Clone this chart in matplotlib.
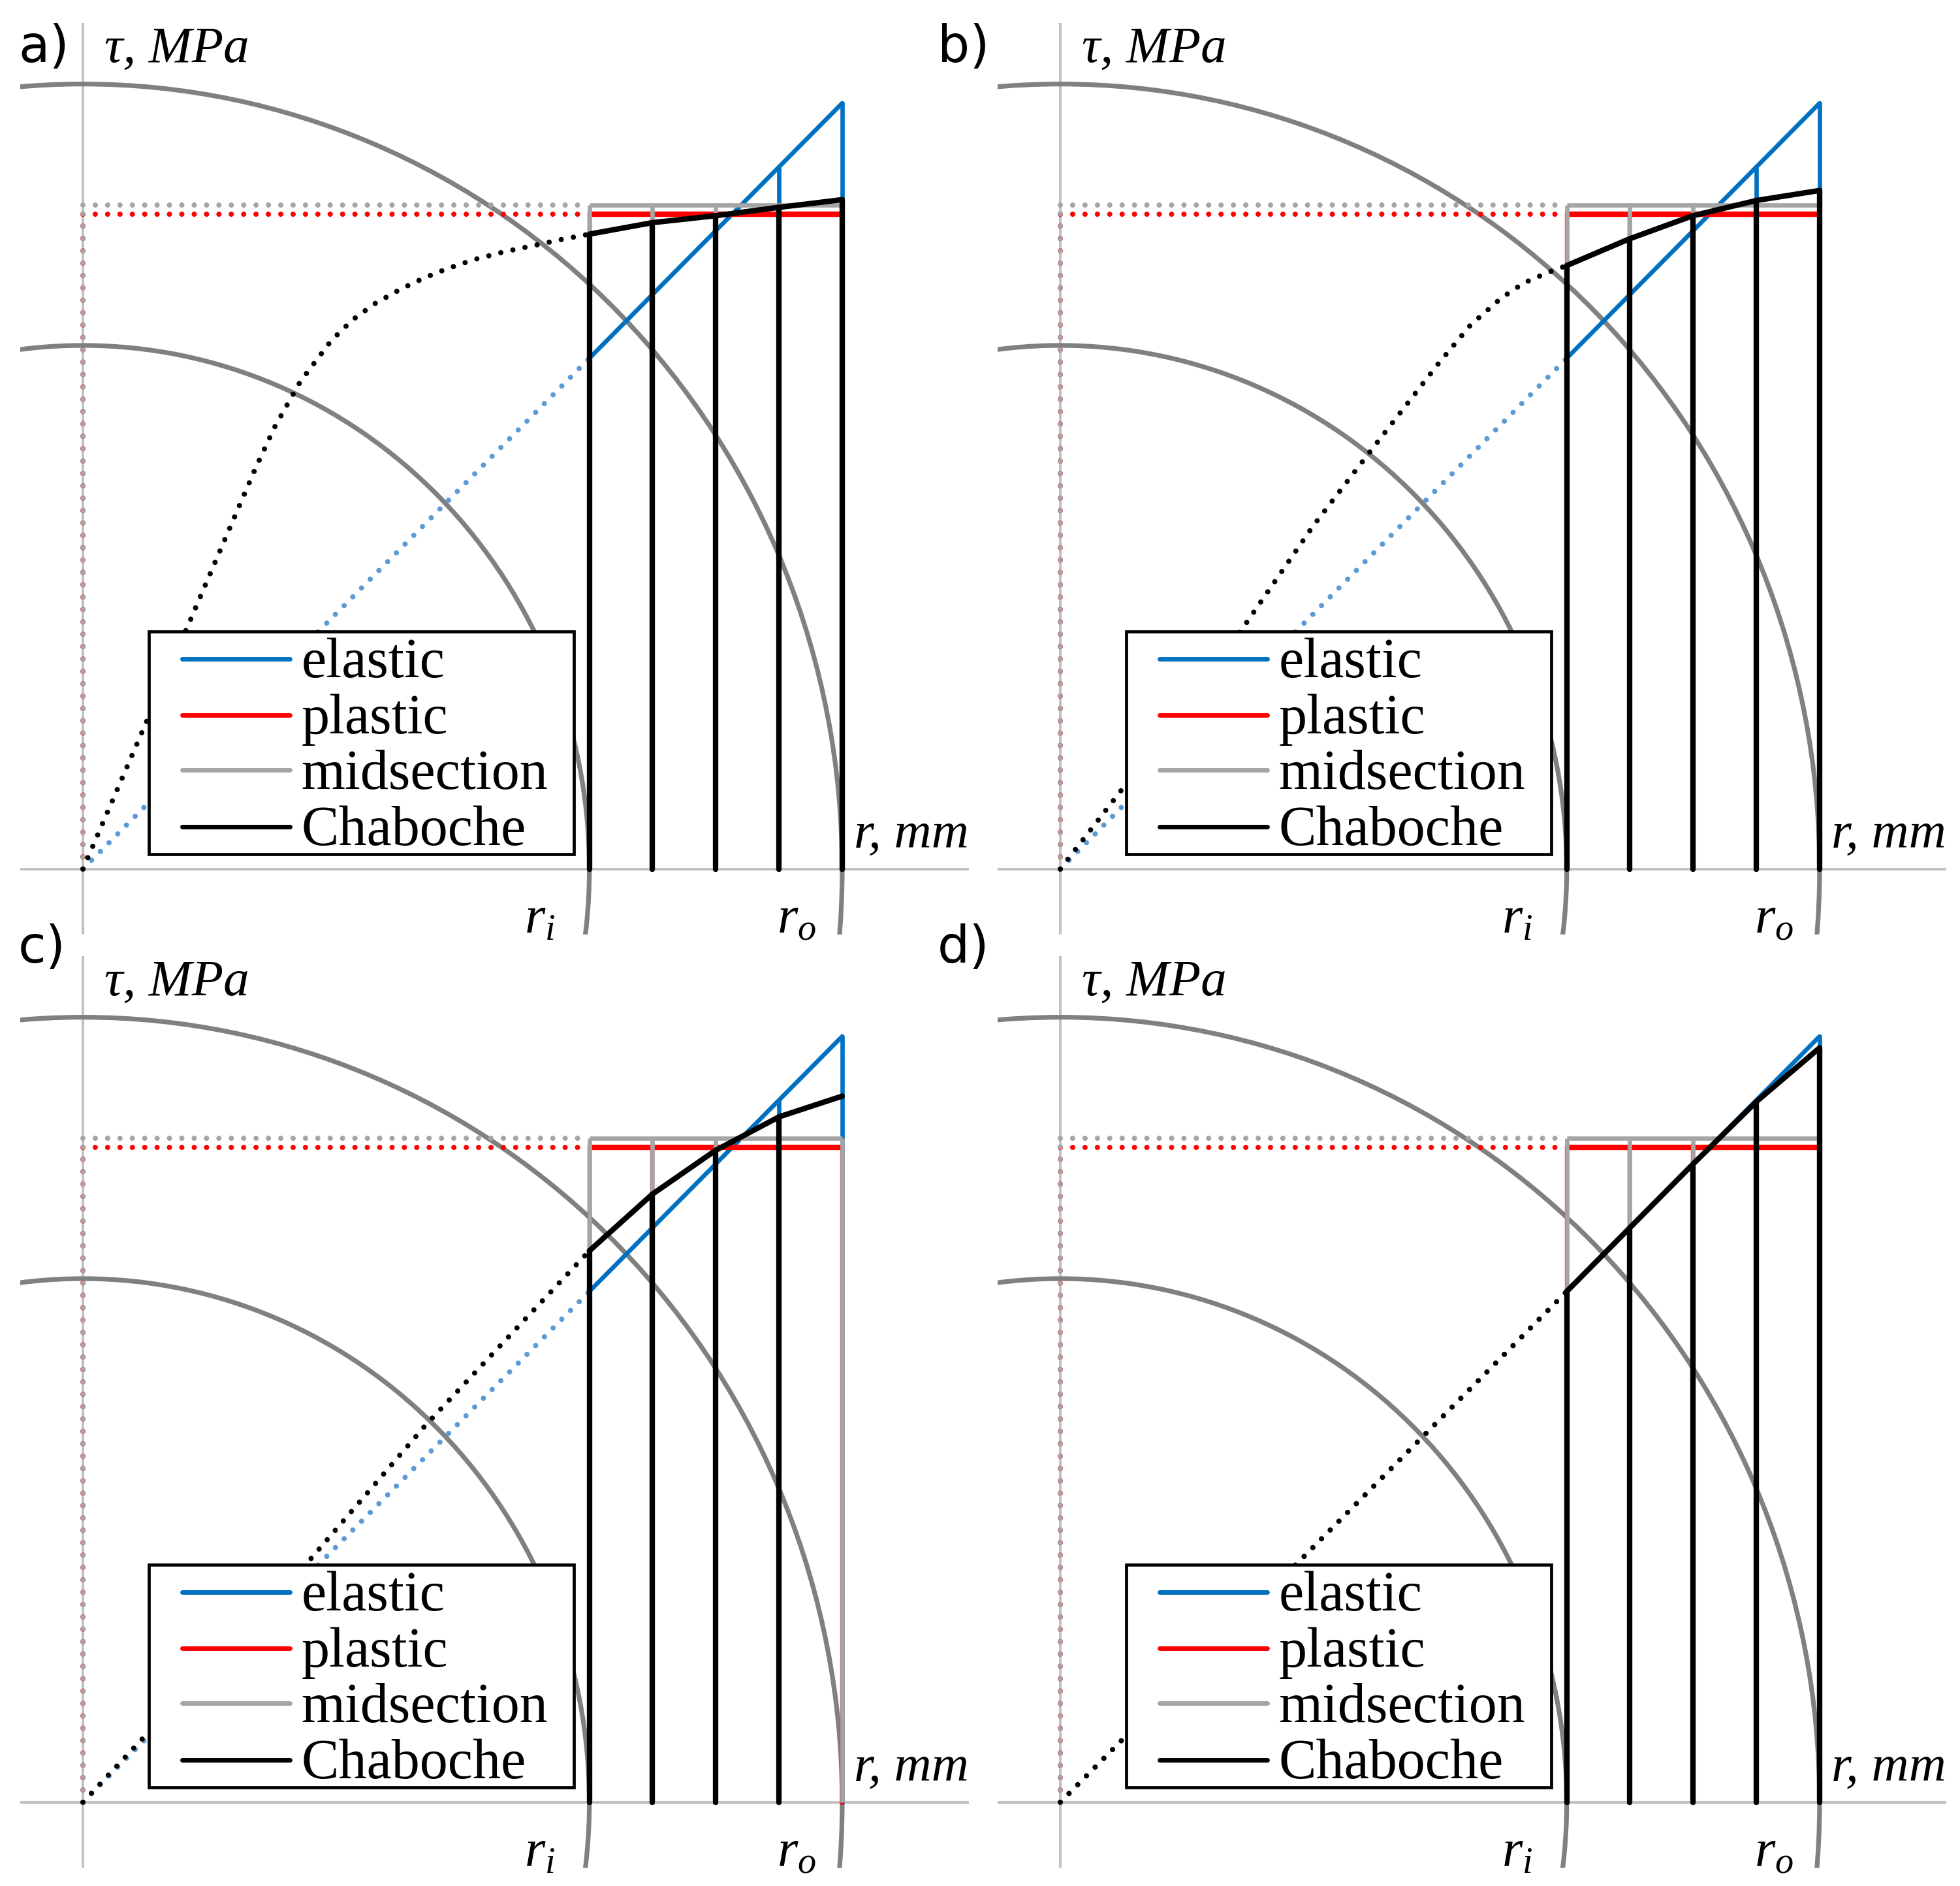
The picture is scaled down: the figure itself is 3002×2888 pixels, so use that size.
import matplotlib
matplotlib.use('Agg')
import matplotlib.pyplot as plt
from matplotlib.patches import Ellipse, Rectangle

plt.rcParams['font.family'] = ['Liberation Serif', 'DejaVu Serif']
plt.rcParams['mathtext.fontset'] = 'custom'
plt.rcParams['mathtext.it'] = 'Liberation Serif:italic'
plt.rcParams['mathtext.rm'] = 'Liberation Serif'

# ---------------- data (normalised: r / r_o, tau / tau_elastic(r_o)) ----------------
PANEL_LABELS = ['a)', 'b)', 'c)', 'd)']
R_SECTIONS = [0.667, 0.75, 0.833, 0.917, 1.0]
R_INNER = 0.667
R_OUTER = 1.0
ARC_RADII = [0.667, 1.0]
ARC_STRETCH = 1.025

ELASTIC_TAU = [0.667, 0.75, 0.833, 0.917, 1.0]
ELASTIC_DOT_R = [0.0, 0.667]
ELASTIC_DOT_TAU = [0.0, 0.667]

TAU_PLASTIC = 0.855
TAU_MIDSECTION = 0.867

# Chaboche, panel a
CHAB_A_TAU = [0.829, 0.844, 0.853, 0.864, 0.874]
CHAB_A_DOT_R = [0.0, 0.138, 0.179, 0.228, 0.253, 0.286, 0.327, 0.355, 0.384, 0.42,
                0.45, 0.48, 0.516, 0.555, 0.598, 0.63, 0.667]
CHAB_A_DOT_TAU = [0.0, 0.317, 0.412, 0.525, 0.578, 0.636, 0.69, 0.717, 0.738, 0.758,
                  0.772, 0.784, 0.796, 0.806, 0.815, 0.822, 0.829]
CHAB_A_BARS = [0.667, 0.75, 0.833, 0.917, 1.0]
# Chaboche, panel b
CHAB_B_TAU = [0.788, 0.823, 0.853, 0.873, 0.886]
CHAB_B_DOT_R = [0.0, 0.082, 0.242, 0.333, 0.415, 0.498, 0.54, 0.58, 0.61, 0.64, 0.667]
CHAB_B_DOT_TAU = [0.0, 0.105, 0.317, 0.448, 0.554, 0.66, 0.71, 0.745, 0.765, 0.778, 0.788]
CHAB_B_BARS = [0.667, 0.75, 0.833, 0.917, 1.0]
# Chaboche, panel c
CHAB_C_TAU = [0.72, 0.794, 0.851, 0.895, 0.922]
CHAB_C_DOT_R = [0.0, 0.295, 0.451, 0.667]
CHAB_C_DOT_TAU = [0.0, 0.312, 0.492, 0.72]
CHAB_C_BARS = [0.667, 0.75, 0.833, 0.917]
# Chaboche, panel d
CHAB_D_TAU = [0.667, 0.75, 0.833, 0.915, 0.985]
CHAB_D_DOT_R = [0.0, 0.667]
CHAB_D_DOT_TAU = [0.0, 0.667]
CHAB_D_BARS = [0.667, 0.75, 0.833, 0.917, 1.0]

LEGEND_LABELS = ['elastic', 'plastic', 'midsection', 'Chaboche']
LEGEND_COLORS = ['#0070C0', '#FF0000', '#A5A5A5', '#000000']

C_BLUE = '#0070C0'
C_BLUE_DOT = '#5B9BD5'
C_RED = '#FF0000'
C_MID = '#A5A5A5'
C_AXIS = '#C0C0C0'
C_ARC = '#808080'

# ---------------- layout ----------------
W, H = 3002, 2888
fig = plt.figure(figsize=(W / 100, H / 100), dpi=100)

XLIM = (-0.0829, 1.1666)
YLIM = (-0.0855, 1.1053)
base = [30.6 / W, 1 - 1431 / H, 1453.1 / W, 1396.5 / H]
DX = 1497 / W
DY = 1429 / H
offsets = [(0, 0), (DX, 0), (0, -DY), (DX, -DY)]
letter_pos = [(28, 95), (1436, 95), (28, 1474), (1436, 1474)]

chab = [
    (CHAB_A_TAU, CHAB_A_DOT_R, CHAB_A_DOT_TAU, CHAB_A_BARS),
    (CHAB_B_TAU, CHAB_B_DOT_R, CHAB_B_DOT_TAU, CHAB_B_BARS),
    (CHAB_C_TAU, CHAB_C_DOT_R, CHAB_C_DOT_TAU, CHAB_C_BARS),
    (CHAB_D_TAU, CHAB_D_DOT_R, CHAB_D_DOT_TAU, CHAB_D_BARS),
]

DOT_LW = 5.8
DOT_GAP = 2.35  # in units of DOT_LW


def dot_style(lw):
    return dict(linestyle=(0, (0.001, DOT_GAP * DOT_LW / lw)), dash_capstyle='round', lw=lw)


solid_kw = dict(solid_capstyle='round', solid_joinstyle='round')

for i in range(4):
    ox, oy = offsets[i]
    ax = fig.add_axes([base[0] + ox, base[1] + oy, base[2], base[3]])
    ax.set_xlim(*XLIM)
    ax.set_ylim(*YLIM)
    ax.axis('off')

    ctau, cdr, cdt, cbars = chab[i]

    # axes lines
    ax.axhline(0, color=C_AXIS, lw=2.8, zorder=1)
    ax.axvline(0, color=C_AXIS, lw=2.8, zorder=1)

    # section arcs
    for rad in ARC_RADII:
        ax.add_patch(Ellipse((0, 0), 2 * rad, 2 * rad * ARC_STRETCH, fill=False,
                             edgecolor=C_ARC, lw=5.2, zorder=2))

    # elastic
    ax.plot(ELASTIC_DOT_R, ELASTIC_DOT_TAU, color=C_BLUE_DOT, zorder=3, **dot_style(DOT_LW))
    ax.plot(R_SECTIONS, ELASTIC_TAU, color=C_BLUE, lw=4.8, zorder=3, **solid_kw)
    for r, t in zip(R_SECTIONS, ELASTIC_TAU):
        ax.plot([r, r], [0, t], color=C_BLUE, lw=4.8, zorder=3, **solid_kw)

    # plastic
    ax.plot([0, 0], [0, TAU_PLASTIC], color=C_RED, zorder=4, **dot_style(DOT_LW))
    ax.plot([0, R_INNER], [TAU_PLASTIC, TAU_PLASTIC], color=C_RED, zorder=4,
            **dot_style(DOT_LW))
    ax.plot([R_INNER, R_OUTER], [TAU_PLASTIC, TAU_PLASTIC], color=C_RED, lw=6.0,
            zorder=4, solid_capstyle='butt')
    for r in R_SECTIONS:
        ax.plot([r, r], [0, TAU_PLASTIC], color=C_RED, lw=4.6, zorder=4)

    # midsection
    ax.plot([0, 0], [0, TAU_MIDSECTION], color=C_MID, zorder=5, **dot_style(DOT_LW - 0.3))
    ax.plot([0, R_INNER], [TAU_MIDSECTION, TAU_MIDSECTION], color=C_MID, zorder=5,
            **dot_style(DOT_LW))
    ax.plot([R_INNER, R_OUTER], [TAU_MIDSECTION, TAU_MIDSECTION], color=C_MID, lw=4.8,
            zorder=5, solid_capstyle='butt')
    for r in R_SECTIONS:
        ax.plot([r, r], [0, TAU_MIDSECTION], color=C_MID, lw=4.8, zorder=5,
                solid_capstyle='butt')

    # Chaboche
    ax.plot(cdr, cdt, color='black', zorder=6, **dot_style(DOT_LW))
    ax.plot(R_SECTIONS, ctau, color='black', lw=6.0, zorder=6, **solid_kw)
    for r in cbars:
        t = ctau[R_SECTIONS.index(r)]
        ax.plot([r, r], [0, t], color='black', lw=6.0, zorder=6, **solid_kw)

    # axis labels
    ax.text(0.028, 1.054, 'τ, MPa', fontsize=57, style='italic', ha='left',
            va='baseline', clip_on=False)
    ax.text(1.0155, 0.028, 'r, mm', fontsize=57, style='italic', ha='left',
            va='baseline', clip_on=False)
    ax.text(0.581, -0.083, r'$r_i$', fontsize=58, ha='left', va='baseline', clip_on=False)
    ax.text(0.914, -0.083, r'$r_o$', fontsize=58, ha='left', va='baseline', clip_on=False)

    # legend (framed box)
    ax.add_patch(Rectangle((0.0867, 0.0197), 0.5597, 0.2906, facecolor='white',
                           edgecolor='black', lw=3.4, zorder=10))
    ys = [0.2744, 0.201, 0.129, 0.0556]
    for lab, col, y in zip(LEGEND_LABELS, LEGEND_COLORS, ys):
        ax.plot([0.131, 0.273], [y, y], color=col, lw=5.0, zorder=11,
                solid_capstyle='round')
        ax.text(0.2875, y - 0.024, lab, fontsize=62, ha='left', va='baseline', zorder=12)

    # panel letter
    lx, ly = letter_pos[i]
    fig.text(lx / W, 1 - ly / H, PANEL_LABELS[i], fontsize=56, family='DejaVu Sans',
             ha='left', va='baseline')

fig.savefig('out.png', dpi=100, facecolor='white')
